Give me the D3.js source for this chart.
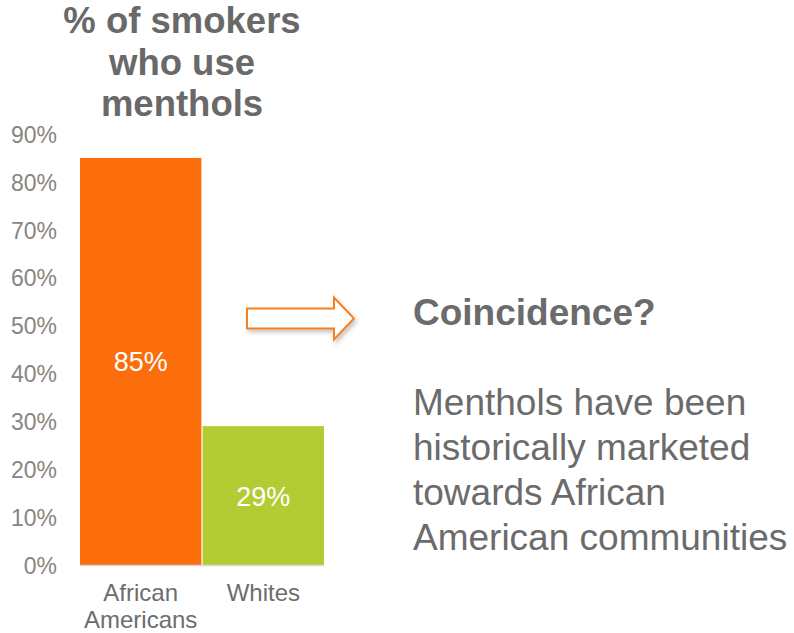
<!DOCTYPE html>
<html>
<head>
<meta charset="utf-8">
<script src="https://cdn.jsdelivr.net/npm/d3@7"></script>
<style>
  html, body { margin: 0; padding: 0; background: #fff; }
  svg { display: block; font-family: "Liberation Sans", Arial, sans-serif; }
</style>
</head>
<body>
<svg id="chart" width="794" height="633"></svg>
<script>
// Share of smokers who use menthol cigarettes, by group
const categories = ["African Americans", "Whites"];
const categoryLines = [["African", "Americans"], ["Whites"]];
const values = [85, 29];
const valueLabels = ["85%", "29%"];
const barColors = ["#fb6e0b", "#b3cc34"];
const tickValues = [0, 10, 20, 30, 40, 50, 60, 70, 80, 90];
const titleLines = ["% of smokers", "who use", "menthols"];
const sideHeading = "Coincidence?";
const sideLines = ["Menthols have been", "historically marketed", "towards African", "American communities"];

const FONT = "'Liberation Sans', Arial, sans-serif";
const svg = d3.select("#chart");

const x = d3.scaleBand().domain(categories).range([80, 324]).paddingInner(0.01).paddingOuter(0);
const y = d3.scaleLinear().domain([0, 90]).range([565, 134]);

// Title
svg.append("g").selectAll("text").data(titleLines).join("text")
  .attr("x", 182).attr("y", (d, i) => 33 + i * 41.5)
  .attr("text-anchor", "middle")
  .attr("font-size", 36.5).attr("font-weight", "bold").attr("fill", "#696969")
  .text(d => d);

// Y axis labels
const yAxis = d3.axisLeft(y).tickValues(tickValues).tickFormat(d => d + "%").tickSize(0).tickPadding(0);
const yg = svg.append("g").attr("transform", "translate(57,0)").call(yAxis);
yg.select(".domain").remove();
yg.selectAll("text").attr("font-size", 23).attr("fill", "#8a847e")
  .attr("font-family", FONT).attr("dy", "0.36em");

// Bars
svg.append("g").selectAll("rect").data(categories).join("rect")
  .attr("x", d => x(d)).attr("width", x.bandwidth())
  .attr("y", (d, i) => y(values[i])).attr("height", (d, i) => y(0) - y(values[i]))
  .attr("fill", (d, i) => barColors[i]);

// Baseline
svg.append("line").attr("x1", 80).attr("x2", 324).attr("y1", y(0) + 0.5).attr("y2", y(0) + 0.5)
  .attr("stroke", "#d9d9d9").attr("stroke-width", 1.5);

// Value labels inside bars
svg.append("g").selectAll("text").data(categories).join("text")
  .attr("x", d => x(d) + x.bandwidth() / 2)
  .attr("y", (d, i) => (y(values[i]) + y(0)) / 2 + 10)
  .attr("text-anchor", "middle").attr("font-size", 27).attr("fill", "#ffffff")
  .text((d, i) => valueLabels[i]);

// Category labels
const cat = svg.append("g").selectAll("text").data(categories).join("text")
  .attr("text-anchor", "middle").attr("font-size", 24).attr("fill", "#6d6d6d");
cat.each(function(d, i) {
  const cx = x(d) + x.bandwidth() / 2;
  d3.select(this).selectAll("tspan").data(categoryLines[i]).join("tspan")
    .attr("x", cx).attr("y", (t, j) => 601 + j * 27).text(t => t);
});

// Outline arrow
const defs = svg.append("defs");
const f = defs.append("filter").attr("id", "shadow").attr("x", "-20%").attr("y", "-30%").attr("width", "150%").attr("height", "180%");
f.append("feDropShadow").attr("dx", 2).attr("dy", 3).attr("stdDeviation", 2).attr("flood-color", "#000").attr("flood-opacity", 0.22);
const ax0 = 247, ax1 = 354, ahx = 334, ayc = 318.5;
const arrowPts = [
  [ax0, ayc - 10], [ahx, ayc - 10], [ahx, ayc - 21], [ax1, ayc],
  [ahx, ayc + 21], [ahx, ayc + 10], [ax0, ayc + 10]
];
svg.append("path")
  .attr("d", d3.line()(arrowPts) + "Z")
  .attr("fill", "#ffffff").attr("stroke", "#f7801f").attr("stroke-width", 2)
  .attr("stroke-linejoin", "miter")
  .attr("filter", "url(#shadow)");

// Side text
svg.append("text").attr("x", 413).attr("y", 325)
  .attr("font-size", 37).attr("font-weight", "bold").attr("fill", "#6b6b6b")
  .text(sideHeading);
svg.append("g").selectAll("text").data(sideLines).join("text")
  .attr("x", 413).attr("y", (d, i) => 415 + i * 45)
  .attr("font-size", 37).attr("fill", "#6b6b6b")
  .text(d => d);
</script>
</body>
</html>
